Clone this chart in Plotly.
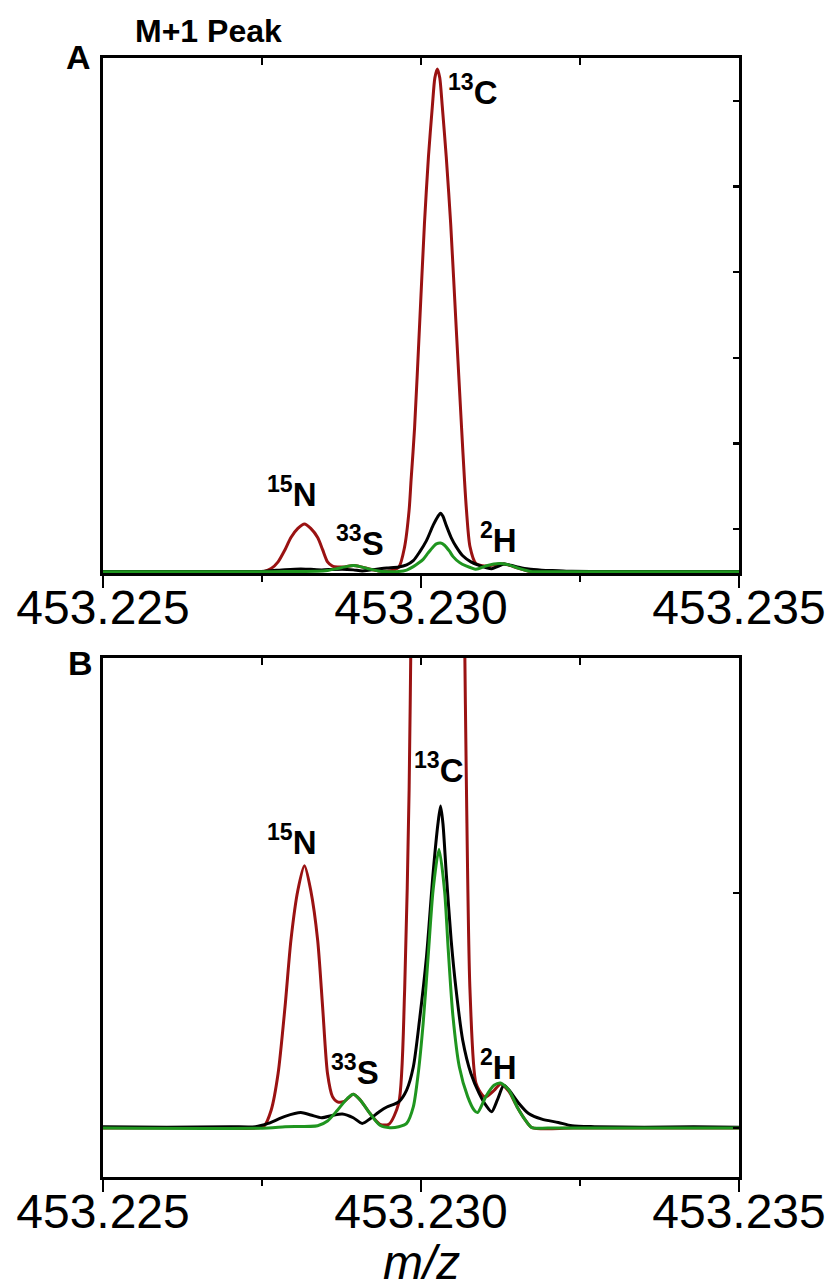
import plotly.graph_objects as go

# ---------------- data ----------------
red_mz = [453.225000, 453.226500, 453.227400, 453.227535, 453.227644, 453.227753, 453.227862,
          453.227955, 453.228064, 453.228168, 453.228266, 453.228375, 453.228453, 453.228530,
          453.228608, 453.228686, 453.228795, 453.228935, 453.229044, 453.229199, 453.229355,
          453.229495, 453.229650, 453.229743, 453.229813, 453.229844, 453.229899, 453.229977,
          453.230054, 453.230117, 453.230179, 453.230218, 453.230257, 453.230295, 453.230334,
          453.230397, 453.230467,
          453.230552, 453.230638, 453.230684, 453.230715, 453.230770, 453.230863, 453.230967,
          453.231019, 453.231148, 453.231252, 453.231381, 453.231512, 453.231641, 453.231745,
          453.232400, 453.235000]
red_int = [0.500, 0.501, 0.500, 0.505, 0.538, 0.616, 0.758,
           0.900, 1.006, 1.058, 1.006, 0.900, 0.758, 0.616,
           0.567, 0.556, 0.557, 0.572, 0.560, 0.531, 0.508,
           0.508, 0.553, 0.794, 1.219, 1.570, 2.180, 3.371,
           4.563, 5.346, 5.942, 6.270, 6.374, 6.270, 5.942,
           5.346, 4.563,
           3.371, 2.180, 1.570, 1.219, 0.794, 0.596, 0.570,
           0.566, 0.580, 0.594, 0.578, 0.545, 0.517, 0.501,
           0.500, 0.500]

black_mz = [453.225000, 453.226000, 453.227000, 453.227395, 453.227597, 453.227862, 453.228110,
            453.228266, 453.228437, 453.228608, 453.228764, 453.228935, 453.229075, 453.229199,
            453.229355, 453.229463, 453.229650, 453.229774, 453.229879, 453.229977, 453.230086,
            453.230190, 453.230267, 453.230308, 453.230345, 453.230397, 453.230474, 453.230552,
            453.230656, 453.230785, 453.230914, 453.231019, 453.231112, 453.231201, 453.231303,
            453.231407, 453.231537, 453.231692, 453.231900, 453.232159, 453.232372, 453.232729,
            453.233507, 453.234285, 453.235000]
black_int = [0.503, 0.502, 0.503, 0.503, 0.510, 0.525, 0.533,
             0.528, 0.522, 0.527, 0.530, 0.522, 0.510, 0.520,
             0.536, 0.545, 0.556, 0.581, 0.630, 0.730, 0.864,
             1.042, 1.148, 1.185, 1.148, 1.042, 0.900, 0.794,
             0.687, 0.616, 0.574, 0.549, 0.535, 0.560, 0.591,
             0.577, 0.553, 0.531, 0.519, 0.512, 0.505, 0.503,
             0.502, 0.503, 0.502]

green_a_mz = [453.225000, 453.227597, 453.227862, 453.228375, 453.228530, 453.228686, 453.228841,
              453.228935, 453.229044, 453.229199, 453.229355, 453.229510, 453.229650, 453.229774,
              453.229879, 453.229956, 453.230034, 453.230112, 453.230190, 453.230241, 453.230308,
              453.230370, 453.230448, 453.230501, 453.230603, 453.230708, 453.230863, 453.231019,
              453.231148, 453.231252, 453.231381, 453.231512, 453.231641, 453.231745, 453.232000,
              453.235000]
green_a_int = [0.500, 0.500, 0.503, 0.505, 0.515, 0.538, 0.563,
               0.572, 0.560, 0.531, 0.506, 0.501, 0.503, 0.520,
               0.560, 0.600, 0.645, 0.720, 0.790, 0.825, 0.836,
               0.810, 0.740, 0.680, 0.610, 0.568, 0.530, 0.567,
               0.591, 0.596, 0.581, 0.545, 0.517, 0.501, 0.500,
               0.500]

green_b_mz = [453.225000, 453.227597, 453.227862, 453.228375, 453.228530, 453.228686, 453.228841,
              453.228935, 453.229044, 453.229199, 453.229355, 453.229510, 453.229650, 453.229774,
              453.229879, 453.229956, 453.230034, 453.230112, 453.230190, 453.230283, 453.230370,
              453.230428, 453.230501, 453.230603, 453.230734, 453.230837, 453.230890, 453.231019,
              453.231148, 453.231252, 453.231381, 453.231512, 453.231641, 453.231745, 453.232000,
              453.235000]
green_b_int = [0.500, 0.500, 0.503, 0.505, 0.515, 0.538, 0.563,
               0.572, 0.560, 0.531, 0.506, 0.501, 0.503, 0.510,
               0.545, 0.616, 0.723, 0.864, 1.006, 1.093, 1.006,
               0.880, 0.740, 0.630, 0.567, 0.538, 0.533, 0.567,
               0.591, 0.596, 0.581, 0.545, 0.517, 0.501, 0.500,
               0.500]

x_tickvals = [453.225, 453.230, 453.235]
x_ticktext = ["453.225", "453.230", "453.235"]
x_minorvals = [453.2275, 453.2325]
x_topvals = [453.2275, 453.2300, 453.2325]

labels_a = ["<sup>15</sup>N", "<sup>33</sup>S", "<sup>13</sup>C", "<sup>2</sup>H"]
labels_a_x = [453.227970, 453.229044, 453.230816, 453.231221]
labels_a_y = [1.432, 0.860, 6.129, 0.895]
labels_b = ["<sup>15</sup>N", "<sup>33</sup>S", "<sup>13</sup>C", "<sup>2</sup>H"]
labels_b_x = [453.227970, 453.228966, 453.230288, 453.231221]
labels_b_y = [1.113, 0.623, 1.266, 0.634]

# ---------------- styling ----------------
FONT = "Liberation Sans, Arial, sans-serif"
RED = "#9a1212"
GREEN = "#1f951f"
BLACK = "#000000"
LW = 3

fig = go.Figure()

panels = [
    ("x", "y", green_a_mz, green_a_int),
    ("x2", "y2", green_b_mz, green_b_int),
]
for xa, ya, gmz, gint in panels:
    fig.add_trace(go.Scatter(x=red_mz, y=red_int, xaxis=xa, yaxis=ya, mode="lines",
                             line=dict(color=RED, width=LW, shape="spline", smoothing=0.7),
                             hoverinfo="skip"))
    fig.add_trace(go.Scatter(x=black_mz, y=black_int, xaxis=xa, yaxis=ya, mode="lines",
                             line=dict(color=BLACK, width=LW, shape="spline", smoothing=0.7),
                             hoverinfo="skip"))
    fig.add_trace(go.Scatter(x=gmz, y=gint, xaxis=xa, yaxis=ya, mode="lines",
                             line=dict(color=GREEN, width=LW, shape="spline", smoothing=0.7),
                             hoverinfo="skip"))

# empty traces so the top tick axes exist
fig.add_trace(go.Scatter(x=[], y=[], xaxis="x3", yaxis="y", hoverinfo="skip"))
fig.add_trace(go.Scatter(x=[], y=[], xaxis="x4", yaxis="y2", hoverinfo="skip"))

XR = [453.225, 453.235]
dom_a = [0.5398, 1.0]
dom_b = [0.0, 0.4638]


def bottom_x(anchor):
    return dict(domain=[0, 1], range=XR, anchor=anchor, tickmode="array",
                tickvals=x_tickvals, ticktext=x_ticktext, ticks="outside", ticklen=12,
                tickwidth=2.5, tickcolor="black", ticklabelstandoff=-22,
                ticklabeloverflow="allow",
                minor=dict(tickmode="array", tickvals=x_minorvals, ticks="outside",
                           ticklen=6, tickwidth=2.5, tickcolor="black", showgrid=False),
                showline=True, linewidth=3, linecolor="black", mirror=True,
                showgrid=False, zeroline=False,
                tickfont=dict(family=FONT, size=48, color="black"))


def top_x(overlay, anchor):
    return dict(overlaying=overlay, anchor=anchor, side="top", range=XR,
                tickmode="array", tickvals=x_topvals, ticks="inside", ticklen=7,
                tickwidth=2.5, tickcolor="black", showticklabels=False,
                showline=False, showgrid=False, zeroline=False)


def right_y(domain, rng, dt, anchor):
    return dict(domain=domain, range=rng, anchor=anchor, side="right",
                tickmode="linear", tick0=0, dtick=dt, ticks="inside", ticklen=6,
                tickwidth=2.5, tickcolor="black", showticklabels=False,
                showline=True, linewidth=3, linecolor="black", mirror=True,
                showgrid=False, zeroline=False)


LABEL_SIZE = 33
annotations = []
for t, x, y in zip(labels_a, labels_a_x, labels_a_y):
    annotations.append(dict(text="<b>" + t + "</b>", x=x, y=y, xref="x", yref="y",
                            showarrow=False, font=dict(family=FONT, size=LABEL_SIZE, color="black"),
                            xanchor="center", yanchor="middle"))
for t, x, y in zip(labels_b, labels_b_x, labels_b_y):
    annotations.append(dict(text="<b>" + t + "</b>", x=x, y=y, xref="x2", yref="y2",
                            showarrow=False, font=dict(family=FONT, size=LABEL_SIZE, color="black"),
                            xanchor="center", yanchor="middle"))

annotations += [
    dict(text="<b>M+1 Peak</b>", x=0.1664, y=1.0241, xref="paper", yref="paper",
         showarrow=False, font=dict(family=FONT, size=32, color="black"),
         xanchor="center", yanchor="middle"),
    dict(text="<b>A</b>", x=-0.039, y=1.001, xref="paper", yref="paper",
         showarrow=False, font=dict(family=FONT, size=34, color="black"),
         xanchor="center", yanchor="middle"),
    dict(text="<b>B</b>", x=-0.036, y=0.4593, xref="paper", yref="paper",
         showarrow=False, font=dict(family=FONT, size=34, color="black"),
         xanchor="center", yanchor="middle"),
    dict(text="<i>m/z</i>", x=0.5, y=-0.076, xref="paper", yref="paper",
         showarrow=False, font=dict(family=FONT, size=48, color="black"),
         xanchor="center", yanchor="middle"),
]

fig.update_layout(
    width=838, height=1288,
    margin=dict(l=103, r=87, t=58, b=111),
    paper_bgcolor="white", plot_bgcolor="white",
    showlegend=False,
    xaxis=bottom_x("y"),
    xaxis2=bottom_x("y2"),
    xaxis3=top_x("x", "y"),
    xaxis4=top_x("x2", "y2"),
    yaxis=right_y(dom_a, [0.486, 6.502], 1, "x"),
    yaxis2=right_y(dom_b, [0.396, 1.5], 0.5, "x2"),
    annotations=annotations,
    font=dict(family=FONT),
)

# remove the default page margin and scrollbars so the figure fills the window exactly
fig.write_html(
    "out.html",
    config={"displayModeBar": False, "staticPlot": True},
    post_script=(
        "document.body.style.margin='0';"
        "document.body.style.overflow='hidden';"
        "document.documentElement.style.overflow='hidden';"
    ),
)
